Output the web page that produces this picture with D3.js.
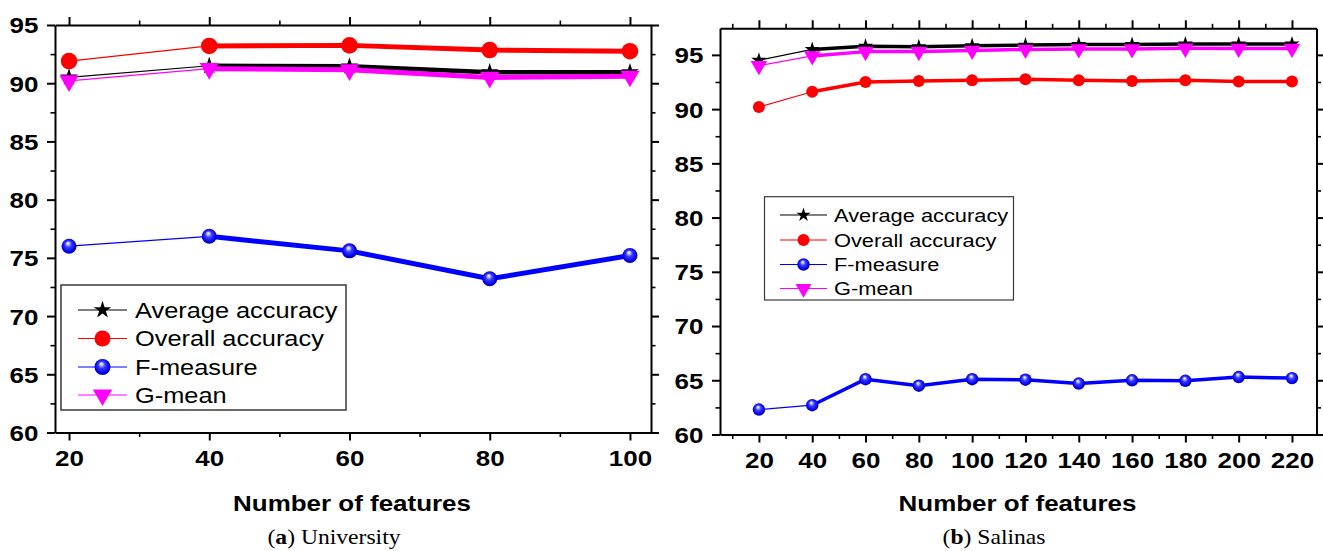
<!DOCTYPE html>
<html>
<head>
<meta charset="utf-8">
<script src="https://cdn.jsdelivr.net/npm/d3@7"></script>
<style>
  html, body { margin: 0; padding: 0; background: #fff; }
  svg { display: block; }
</style>
</head>
<body>
<script>
// ---- data ----
const uniFeatures = [20, 40, 60, 80, 100];
const uniAverage  = [90.5, 91.5, 91.45, 90.95, 90.95];
const uniOverall  = [91.9, 93.2, 93.25, 92.85, 92.75];
const uniFmeasure = [76.0, 76.85, 75.6, 73.2, 75.2];
const uniGmean    = [90.2, 91.25, 91.15, 90.5, 90.6];

const salFeatures = [20, 40, 60, 80, 100, 120, 140, 160, 180, 200, 220];
const salAverage  = [94.5, 95.5, 95.8, 95.75, 95.85, 95.9, 95.95, 95.95, 96.0, 96.0, 96.0];
const salOverall  = [90.2, 91.6, 92.5, 92.6, 92.65, 92.75, 92.65, 92.6, 92.65, 92.55, 92.55];
const salFmeasure = [62.3, 62.7, 65.1, 64.5, 65.1, 65.05, 64.7, 65.0, 64.95, 65.3, 65.2];
const salGmean    = [94.0, 94.9, 95.3, 95.3, 95.4, 95.5, 95.55, 95.55, 95.6, 95.58, 95.58];

const seriesNames = ["Average accuracy", "Overall accuracy", "F-measure", "G-mean"];
const yMajor = [60, 65, 70, 75, 80, 85, 90, 95];
const yMinor = [62.5, 67.5, 72.5, 77.5, 82.5, 87.5, 92.5];
const uniXMajor = [20, 40, 60, 80, 100];
const uniXMinor = [30, 50, 70, 90];
const salXMajor = [20, 40, 60, 80, 100, 120, 140, 160, 180, 200, 220];
const salXMinor = [10, 30, 50, 70, 90, 110, 130, 150, 170, 190, 210];
const xTitle = "Number of features";

// ---- styling ----
const SANS = "'Liberation Sans', Arial, Helvetica, sans-serif";
const SERIF = "'URW Palladio L', 'Palatino Linotype', 'Liberation Serif', serif";
const SX = 1.18; // horizontal widening of the lettering
const colors = ["#000000", "#ff0000", "#0000ff", "#ff00ff"];

const svg = d3.select("body").append("svg").attr("width", 1323).attr("height", 551);

// shaded sphere for the F-measure markers
const grad = svg.append("defs").append("radialGradient")
  .attr("id", "sphere").attr("cx", 0.5).attr("cy", 0.5).attr("r", 0.55)
  .attr("fx", 0.42).attr("fy", 0.28);
[[0, "#ffffff"], [0.14, "#c8ccff"], [0.4, "#3a3aff"], [0.8, "#0000e8"], [1, "#0000a8"]]
  .forEach(([o, c]) => grad.append("stop").attr("offset", o).attr("stop-color", c));

function marker(sel, kind, m) {
  if (kind === 0) {
    sel.append("path").attr("d", d3.symbol(d3.symbolStar, m.star)()).attr("fill", "#000");
  } else if (kind === 1) {
    sel.append("circle").attr("r", m.circle).attr("fill", "#ff0000");
  } else if (kind === 2) {
    sel.append("circle").attr("r", m.sphere).attr("fill", "url(#sphere)");
  } else {
    sel.append("path").attr("d", d3.symbol(d3.symbolTriangle, m.tri)())
      .attr("transform", "rotate(180)").attr("fill", "#ff00ff");
  }
}

function styleAxis(g) {
  g.attr("font-family", SANS).attr("font-size", 22).attr("font-weight", "bold");
  g.select(".domain").attr("stroke", "#000").attr("stroke-width", 2);
  g.selectAll(".tick line").attr("stroke", "#000").attr("stroke-width", 2);
}

function drawPanel(p) {
  const x = d3.scaleLinear().domain(p.xDomain).range([p.left, p.right]);
  const y = d3.scaleLinear().domain([60, p.yTop]).range([p.bottom, p.top]);
  const g = svg.append("g");

  // minor ticks on all four sides
  const minor = [
    [d3.axisBottom(x).tickValues(p.xMinor), p.bottom, "y"],
    [d3.axisTop(x).tickValues(p.xMinor), p.top, "y"],
    [d3.axisLeft(y).tickValues(yMinor), p.left, "x"],
    [d3.axisRight(y).tickValues(yMinor), p.right, "x"]
  ];
  minor.forEach(([ax, pos, dir]) => {
    const a = g.append("g")
      .attr("transform", dir === "y" ? `translate(0,${pos})` : `translate(${pos},0)`)
      .call(ax.tickSize(4.5).tickSizeOuter(0).tickFormat(""));
    a.select(".domain").remove();
    a.selectAll(".tick line").attr("stroke", "#000").attr("stroke-width", 1.6);
  });

  // labelled bottom axis
  const bx = g.append("g").attr("transform", `translate(0,${p.bottom})`)
    .call(d3.axisBottom(x).tickValues(p.xMajor).tickSize(8).tickSizeOuter(0).tickFormat(d3.format("d")));
  styleAxis(bx);
  bx.selectAll("text").attr("y", 33.5).attr("dy", null).attr("fill", "#000")
    .attr("transform", `scale(${SX},1)`);

  // labelled left axis
  const ly = g.append("g").attr("transform", `translate(${p.left},0)`)
    .call(d3.axisLeft(y).tickValues(yMajor).tickSize(8).tickSizeOuter(0).tickFormat(d3.format("d")));
  styleAxis(ly);
  ly.selectAll("text").attr("x", -16.7 / SX).attr("dy", "0.36em").attr("fill", "#000")
    .attr("transform", `scale(${SX},1)`);

  // mirrored top and right axes without labels
  const tx = g.append("g").attr("transform", `translate(0,${p.top})`)
    .call(d3.axisTop(x).tickValues(p.xMajor).tickSize(8).tickSizeOuter(0).tickFormat(""));
  styleAxis(tx);
  const ry = g.append("g").attr("transform", `translate(${p.right},0)`)
    .call(d3.axisRight(y).tickValues(yMajor).tickSize(8).tickSizeOuter(0).tickFormat(""));
  styleAxis(ry);

  // series: thin first segment, heavy afterwards
  const line = d3.line().x(d => x(d[0])).y(d => y(d[1]));
  p.series.forEach((vals, i) => {
    const pts = p.xs.map((v, k) => [v, vals[k]]);
    g.append("path").attr("d", line(pts.slice(0, 2))).attr("fill", "none")
      .attr("stroke", colors[i]).attr("stroke-width", 1.2);
    g.append("path").attr("d", line(pts.slice(1))).attr("fill", "none")
      .attr("stroke", colors[i]).attr("stroke-width", p.thick[i])
      .attr("stroke-linejoin", "round");
  });
  p.series.forEach((vals, i) => {
    p.xs.forEach((v, k) => {
      const m = g.append("g").attr("transform", `translate(${x(v)},${y(vals[k])})`);
      marker(m, i, p.marks);
    });
  });

  // legend
  const L = p.legend;
  g.append("rect").attr("x", L.x0).attr("y", L.y0)
    .attr("width", L.x1 - L.x0).attr("height", L.y1 - L.y0)
    .attr("fill", "#fff").attr("stroke", "#3a3a3a").attr("stroke-width", L.border);
  seriesNames.forEach((name, i) => {
    const cy = L.rows[i];
    g.append("line").attr("x1", L.lx0).attr("x2", L.lx1).attr("y1", cy).attr("y2", cy)
      .attr("stroke", colors[i]).attr("stroke-width", 1.2);
    const m = g.append("g").attr("transform", `translate(${(L.lx0 + L.lx1) / 2},${cy})`);
    marker(m, i, L.marks);
    g.append("text").attr("transform", `translate(${L.tx},${cy}) scale(${SX},1)`)
      .attr("dy", "0.36em").attr("font-family", SANS).attr("font-size", L.font)
      .attr("fill", "#000").text(name);
  });

  // axis title
  g.append("text").attr("transform", `translate(${p.titleX},511) scale(${SX},1)`)
    .attr("text-anchor", "middle").attr("font-family", SANS).attr("font-size", 22)
    .attr("font-weight", "bold").attr("fill", "#000").text(xTitle);

  // caption
  const cap = g.append("text").attr("transform", `translate(${p.capX},544) scale(${SX},1)`)
    .attr("text-anchor", "middle").attr("font-family", SERIF).attr("font-size", 20)
    .attr("fill", "#000");
  cap.append("tspan").text("(");
  cap.append("tspan").attr("font-weight", "bold").text(p.capLetter);
  cap.append("tspan").text(") ");
  cap.append("tspan").text(p.capText);
}

drawPanel({
  xs: uniFeatures,
  series: [uniAverage, uniOverall, uniFmeasure, uniGmean],
  xDomain: [18, 103], left: 55, right: 651,
  yTop: 95, top: 25, bottom: 432.5,
  xMajor: uniXMajor, xMinor: uniXMinor,
  thick: [4.5, 5, 5, 5],
  marks: { star: 95, circle: 8.3, sphere: 7.5, tri: 160 },
  legend: {
    x0: 61, x1: 346, y0: 285, y1: 410, border: 1.5,
    rows: [310, 338.5, 367, 395], lx0: 78, lx1: 127, tx: 135, font: 21.5,
    marks: { star: 95, circle: 8, sphere: 8, tri: 160 }
  },
  titleX: 352, capX: 334, capLetter: "a", capText: "University"
});

drawPanel({
  xs: salFeatures,
  series: [salAverage, salOverall, salFmeasure, salGmean],
  xDomain: [5.4, 229.2], left: 720, right: 1316.5,
  yTop: 97.45, top: 28.3, bottom: 434.5,
  xMajor: salXMajor, xMinor: salXMinor,
  thick: [3.5, 3.5, 3.5, 3.5],
  marks: { star: 72, circle: 6, sphere: 6.2, tri: 118 },
  legend: {
    x0: 764.5, x1: 1013.5, y0: 196.7, y1: 300, border: 1.2,
    rows: [215, 240, 264.5, 288.5], lx0: 780, lx1: 827, tx: 834, font: 18.5,
    marks: { star: 62, circle: 6, sphere: 6.2, tri: 110 }
  },
  titleX: 1017.5, capX: 994, capLetter: "b", capText: "Salinas"
});
</script>
</body>
</html>
